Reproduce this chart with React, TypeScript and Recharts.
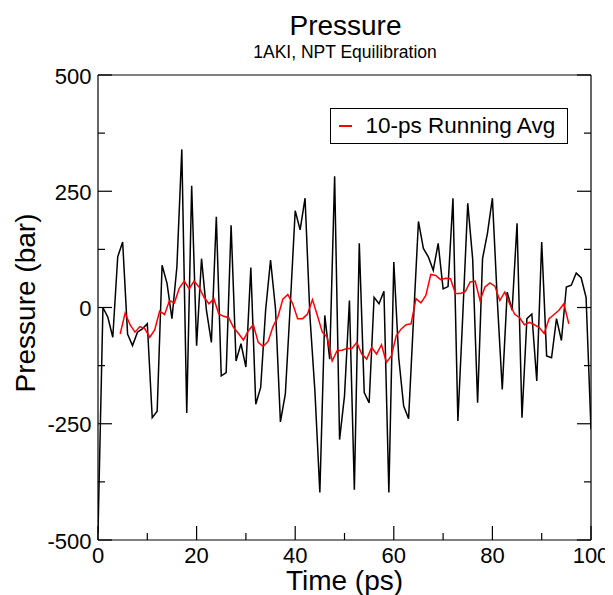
import { LineChart, Line, XAxis, YAxis, Legend } from "recharts";

const FONT = "'Liberation Sans', Arial, Helvetica, sans-serif";

// instantaneous pressure, one sample per ps (t = 0..100)
const PRESSURE = [
  -485, 0, -21, -64, 109, 141, -57, -82, -53, -46,
  -35, -237, -223, 91, 52, -24, 87, 340, -227, 262,
  -82, 105, -6, -75, 195, -147, -140, 177, -115, -78,
  -128, 86, -208, -172, -6, 102, -2, -246, -186, 5,
  208, 167, 235, -21, -180, -398, -17, -111, 282, -284,
  -190, 15, -392, 138, -183, -205, 22, 8, 35, -398,
  98, -108, -212, -239, -25, 185, 127, 109, 80, 138,
  40, 45, 235, -244, -15, 224, 104, -205, 105, 160,
  235, 15, -176, 33, -6, 181, -237, -24, -14, -158,
  141, -104, -108, -24, -71, 44, 48, 74, 64, 22,
  -262,
];

// 10-ps running average, first window centred at 4.5 ps
const AVG_START = 4.5;
const RUNNING_AVG = [
  -57, -12, -37, -53, -41, -46, -64, -48, -8, -15,
  15, 10, 42, 57, 40, 57, 44, 22, 8, 19,
  -14, -19, -22, -43, -56, -70, -50, -37, -75, -84,
  -73, -41, -20, 18, 28, 8, -24, -24, -14, 17,
  -17, -53, -64, -115, -93, -92, -88, -88, -75, -100,
  -111, -86, -100, -80, -118, -104, -61, -46, -37, -35,
  19, 10, 26, 71, 69, 60, 63, 62, 30, 30,
  34, 55, 57, 15, 44, 53, 46, 15, 33, 8,
  -14, -22, -37, -32, -37, -43, -56, -24, -15, -6,
  8, -35,
];

const X_TICKS = [0, 10, 20, 30, 40, 50, 60, 70, 80, 90, 100];
const Y_TICKS = [-500, -375, -250, -125, 0, 125, 250, 375, 500];
const X_MAJOR = 20;
const Y_MAJOR = 250;

const rawData = PRESSURE.map((p, i) => ({ time: i, pressure: p }));
const avgData = RUNNING_AVG.map((v, i) => ({ time: AVG_START + i, avg: v }));

const MAJOR_LEN = 14;
const MINOR_LEN = 7;
const AXIS_STROKE = { stroke: "#000", strokeWidth: 1.2 };

function BottomTick(props: any) {
  const { x, y, payload } = props;
  const major = payload.value % X_MAJOR === 0;
  return (
    <g>
      <line x1={x} y1={y} x2={x} y2={y - (major ? MAJOR_LEN : MINOR_LEN)} {...AXIS_STROKE} />
      {major && (
        <text x={x} y={y + 23} textAnchor="middle" fontSize={22} fontFamily={FONT} fill="#000">
          {payload.value}
        </text>
      )}
    </g>
  );
}

function TopTick(props: any) {
  const { x, y, payload } = props;
  const major = payload.value % X_MAJOR === 0;
  return <line x1={x} y1={y} x2={x} y2={y + (major ? MAJOR_LEN : MINOR_LEN)} {...AXIS_STROKE} />;
}

function LeftTick(props: any) {
  const { x, y, payload } = props;
  const major = payload.value % Y_MAJOR === 0;
  return (
    <g>
      <line x1={x} y1={y} x2={x + (major ? MAJOR_LEN : MINOR_LEN)} y2={y} {...AXIS_STROKE} />
      {major && (
        <text x={x - 6.5} y={y + 8.5} textAnchor="end" fontSize={22} fontFamily={FONT} fill="#000">
          {String(payload.value)}
        </text>
      )}
    </g>
  );
}

function RightTick(props: any) {
  const { x, y, payload } = props;
  const major = payload.value % Y_MAJOR === 0;
  return <line x1={x} y1={y} x2={x - (major ? MAJOR_LEN : MINOR_LEN)} y2={y} {...AXIS_STROKE} />;
}

function LegendBox() {
  return (
    <div
      style={{
        width: 238,
        height: 36,
        boxSizing: "border-box",
        border: "1.5px solid #000",
        background: "#fff",
        display: "flex",
        alignItems: "center",
        fontFamily: FONT,
        fontSize: 22.5,
        color: "#000",
        whiteSpace: "nowrap",
      }}
    >
      <span style={{ display: "inline-block", width: 13, height: 2, background: "#ff0000", marginLeft: 7.5, marginRight: 14 }} />
      10-ps Running Avg
    </div>
  );
}

export default function App() {
  return (
    <div style={{ position: "relative", width: 605, height: 587, fontFamily: FONT }}>
      <svg width={605} height={60} style={{ position: "absolute", left: 0, top: 0 }}>
        <text x={337.5} y={27} textAnchor="middle" fontSize={28} fontFamily={FONT} fill="#000">
          Pressure
        </text>
        <text x={337} y={50} textAnchor="middle" fontSize={17.5} fontFamily={FONT} fill="#000">
          1AKI, NPT Equilibration
        </text>
      </svg>
      <LineChart width={605} height={587} margin={{ top: 66, right: 21, bottom: 0, left: 0 }}>
        <XAxis
          xAxisId="b"
          dataKey="time"
          type="number"
          domain={[0, 100]}
          allowDataOverflow
          ticks={X_TICKS}
          interval={0}
          height={55}
          tickSize={0}
          tickMargin={0}
          tick={BottomTick}
          axisLine={AXIS_STROKE}
          label={{
            content: (p: any) => (
              <text
                x={p.viewBox.x + p.viewBox.width / 2}
                y={p.viewBox.y + 50}
                textAnchor="middle"
                fontSize={28}
                fontFamily={FONT}
                fill="#000"
              >
                Time (ps)
              </text>
            ),
          }}
        />
        <XAxis
          xAxisId="t"
          orientation="top"
          type="number"
          domain={[0, 100]}
          allowDataOverflow
          ticks={X_TICKS}
          interval={0}
          height={1}
          tickSize={0}
          tickMargin={0}
          tick={TopTick}
          axisLine={AXIS_STROKE}
        />
        <YAxis
          yAxisId="l"
          type="number"
          domain={[-500, 500]}
          allowDataOverflow
          ticks={Y_TICKS}
          interval={0}
          width={90}
          tickSize={0}
          tickMargin={0}
          tick={LeftTick}
          axisLine={AXIS_STROKE}
          label={{
            content: (p: any) => {
              const cx = 27;
              const cy = p.viewBox.y + p.viewBox.height / 2 - 4.5;
              return (
                <text
                  x={cx}
                  y={cy}
                  transform={`rotate(-90, ${cx}, ${cy})`}
                  textAnchor="middle"
                  fontSize={28}
                  fontFamily={FONT}
                  fill="#000"
                >
                  Pressure (bar)
                </text>
              );
            },
          }}
        />
        <YAxis
          yAxisId="r"
          orientation="right"
          type="number"
          domain={[-500, 500]}
          allowDataOverflow
          ticks={Y_TICKS}
          interval={0}
          width={1}
          tickSize={0}
          tickMargin={0}
          tick={RightTick}
          axisLine={AXIS_STROKE}
        />
        <Legend
          layout="horizontal"
          verticalAlign="middle"
          align="center"
          content={() => <LegendBox />}
          wrapperStyle={{ top: 100, left: 322, width: 238, height: 36 }}
        />
        <Line
          xAxisId="b"
          yAxisId="l"
          data={rawData}
          dataKey="pressure"
          type="linear"
          stroke="#000"
          strokeWidth={1.5}
          dot={false}
          isAnimationActive={false}
          legendType="none"
        />
        <Line
          xAxisId="b"
          yAxisId="l"
          data={avgData}
          dataKey="avg"
          type="linear"
          stroke="#ff0000"
          strokeWidth={1.5}
          dot={false}
          isAnimationActive={false}
        />
      </LineChart>
    </div>
  );
}
